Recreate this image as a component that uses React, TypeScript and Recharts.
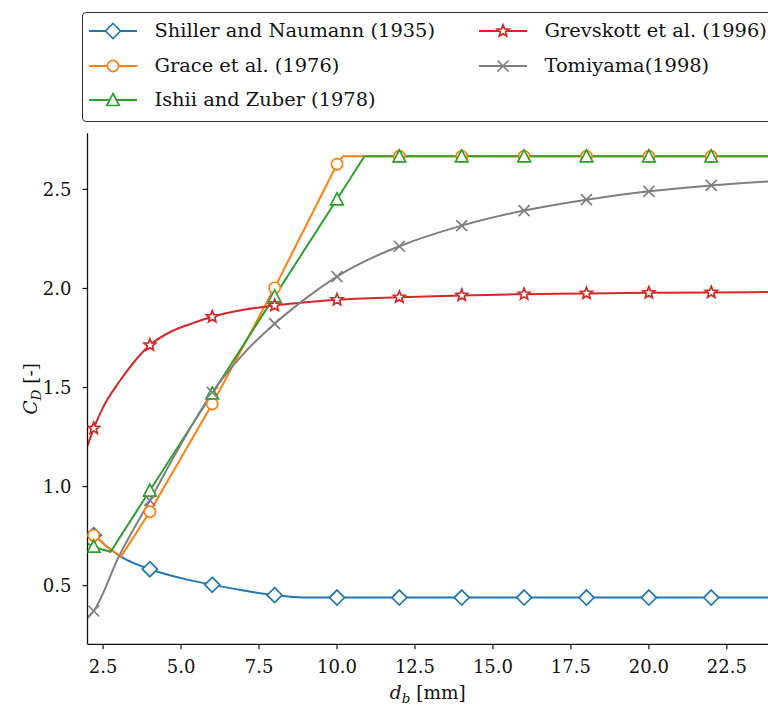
import React from "react";
import { ComposedChart, Line, XAxis, YAxis, Legend } from "recharts";

// values (d_b in mm, C_D dimensionless)
const markerXs = [2.2, 4, 6, 8, 10, 12, 14, 16, 18, 20, 22];

const shillerX = [2.0, 2.2, 2.6, 3.07, 3.5, 4, 5, 6, 7, 8, 8.9, 10, 12, 14, 16, 18, 20, 22, 23.82];
const shillerY = [0.77, 0.755, 0.7, 0.646, 0.612, 0.583, 0.538, 0.504, 0.476, 0.452, 0.44, 0.44, 0.44, 0.44, 0.44, 0.44, 0.44, 0.44, 0.44];

const graceX = [2.0, 2.2, 2.6, 3.07, 4, 6, 8, 10, 10.2, 12, 14, 16, 18, 20, 22, 23.82];
const graceY = [0.77, 0.755, 0.7, 0.646, 0.873, 1.417, 2.003, 2.627, 2.667, 2.667, 2.667, 2.667, 2.667, 2.667, 2.667, 2.667];

const ishiiX = [2.0, 2.2, 2.45, 2.74, 4, 6, 8, 10, 10.88, 12, 14, 16, 18, 20, 22, 23.82];
const ishiiY = [0.712, 0.697, 0.684, 0.671, 0.98, 1.47, 1.96, 2.45, 2.667, 2.667, 2.667, 2.667, 2.667, 2.667, 2.667, 2.667];

const grevskottX = [2.0, 2.2, 2.5, 3.0, 3.5, 4, 4.7, 5.4, 6, 7, 8, 9, 10, 12, 14, 16, 18, 20, 22, 23.82];
const grevskottY = [1.205, 1.294, 1.4, 1.525, 1.63, 1.714, 1.784, 1.826, 1.857, 1.892, 1.914, 1.93, 1.943, 1.956, 1.965, 1.971, 1.975, 1.978, 1.98, 1.982];

const tomiyamaX = [2.0, 2.2, 3, 4, 5, 6, 7, 8, 9, 10, 11, 12, 14, 16, 18, 20, 22, 23.82];
const tomiyamaY = [0.337, 0.372, 0.645, 0.93, 1.215, 1.475, 1.67, 1.822, 1.95, 2.06, 2.145, 2.213, 2.317, 2.393, 2.448, 2.49, 2.52, 2.54];

const seriesNames = [
  "Shiller and Naumann (1935)",
  "Grace et al. (1976)",
  "Ishii and Zuber (1978)",
  "Grevskott et al. (1996)",
  "Tomiyama(1998)",
];

const xTicks = [2.5, 5.0, 7.5, 10.0, 12.5, 15.0, 17.5, 20.0, 22.5];
const yTicks = [0.5, 1.0, 1.5, 2.0, 2.5];

const FONT = "DejaVu Serif";

const toPoints = (xs: number[], ys: number[]) => xs.map((x, i) => ({ x, y: ys[i] }));

type MarkerKind = "diamond" | "circle" | "triangle" | "star" | "cross";

const styles: { color: string; marker: MarkerKind; points: { x: number; y: number }[] }[] = [
  { color: "#1f77b4", marker: "diamond", points: toPoints(shillerX, shillerY) },
  { color: "#ff7f0e", marker: "circle", points: toPoints(graceX, graceY) },
  { color: "#2ca02c", marker: "triangle", points: toPoints(ishiiX, ishiiY) },
  { color: "#d62728", marker: "star", points: toPoints(grevskottX, grevskottY) },
  { color: "#7f7f7f", marker: "cross", points: toPoints(tomiyamaX, tomiyamaY) },
];

function starPoints(cx: number, cy: number, ro: number, ri: number) {
  const pts: string[] = [];
  for (let i = 0; i < 10; i++) {
    const r = i % 2 === 0 ? ro : ri;
    const a = -Math.PI / 2 + (i * Math.PI) / 5;
    pts.push(`${cx + r * Math.cos(a)},${cy + r * Math.sin(a)}`);
  }
  return pts.join(" ");
}

function Marker({ kind, color, cx, cy }: { kind: MarkerKind; color: string; cx: number; cy: number }) {
  const sw = 1.7;
  switch (kind) {
    case "diamond":
      return (
        <polygon
          points={`${cx},${cy - 7.5} ${cx + 7.5},${cy} ${cx},${cy + 7.5} ${cx - 7.5},${cy}`}
          fill="#fff"
          stroke={color}
          strokeWidth={sw}
        />
      );
    case "circle":
      return <circle cx={cx} cy={cy} r={5.6} fill="#fff" stroke={color} strokeWidth={sw} />;
    case "triangle":
      return (
        <polygon
          points={`${cx},${cy - 6.5} ${cx + 6.3},${cy + 5.5} ${cx - 6.3},${cy + 5.5}`}
          fill="#fff"
          stroke={color}
          strokeWidth={sw}
        />
      );
    case "star":
      return <polygon points={starPoints(cx, cy, 6.2, 2.7)} fill="#fff" stroke={color} strokeWidth={sw} />;
    default:
      return (
        <g stroke={color} strokeWidth={sw}>
          <line x1={cx - 5.5} y1={cy - 5.5} x2={cx + 5.5} y2={cy + 5.5} />
          <line x1={cx - 5.5} y1={cy + 5.5} x2={cx + 5.5} y2={cy - 5.5} />
        </g>
      );
  }
}

const makeDot = (kind: MarkerKind, color: string) => (p: any) => {
  const key = `${kind}-${p.index}`;
  if (!p.payload || !markerXs.includes(p.payload.x)) return <g key={key} />;
  return (
    <g key={key}>
      <Marker kind={kind} color={color} cx={p.cx} cy={p.cy} />
    </g>
  );
};

function LegendBox() {
  return (
    <div
      style={{
        position: "relative",
        width: 720,
        height: 110,
        border: "1.5px solid #333",
        borderRadius: 4,
        background: "#fff",
        boxSizing: "border-box",
        fontFamily: FONT,
      }}
    >
      {seriesNames.map((name, i) => {
        const col = i < 3 ? 0 : 1;
        const row = i < 3 ? i : i - 3;
        const s = styles[i];
        return (
          <div
            key={name}
            style={{
              position: "absolute",
              left: col === 0 ? 5.5 : 395.5,
              top: 6 + row * 34.5,
              height: 24,
              display: "flex",
              alignItems: "center",
              whiteSpace: "nowrap",
            }}
          >
            <svg width={48} height={24} style={{ display: "block" }}>
              <line x1={0} y1={12} x2={48} y2={12} stroke={s.color} strokeWidth={2} />
              <Marker kind={s.marker} color={s.color} cx={24} cy={12} />
            </svg>
            <span style={{ marginLeft: 18, fontSize: 19.4, color: "#111", lineHeight: "24px", fontFamily: FONT }}>
              {name}
            </span>
          </div>
        );
      })}
    </div>
  );
}

function XTitle(props: any) {
  const vb = props.viewBox || { x: 87.5, y: 644, width: 680.5 };
  return (
    <text x={vb.x + vb.width / 2} y={699} textAnchor="middle" fontSize={18.5} style={{ fontFamily: FONT }} fill="#111">
      <tspan fontStyle="italic">d</tspan>
      <tspan fontStyle="italic" fontSize={13.5} dy={4}>
        b
      </tspan>
      <tspan dy={-4}> [mm]</tspan>
    </text>
  );
}

function YTitle(props: any) {
  const vb = props.viewBox || { y: 133, height: 511 };
  const cy = vb.y + vb.height / 2;
  const cx = 37;
  return (
    <text
      x={cx}
      y={cy}
      textAnchor="middle"
      fontSize={18.5}
      style={{ fontFamily: FONT }}
      fill="#111"
      transform={`rotate(-90, ${cx}, ${cy})`}
    >
      <tspan fontStyle="italic">C</tspan>
      <tspan fontStyle="italic" fontSize={13.5} dy={4}>
        D
      </tspan>
      <tspan dy={-4}> [-]</tspan>
    </text>
  );
}

const tickStyle = { fontSize: 18, fontFamily: FONT, fill: "#111" };

export default function App() {
  return (
    <div style={{ position: "fixed", left: 0, top: 0, width: 768, height: 708, overflow: "hidden", background: "#fff" }}>
      <ComposedChart width={768} height={708} margin={{ top: 133.3, right: 0, bottom: 0, left: 0 }}>
        <XAxis
          xAxisId="main"
          type="number"
          dataKey="x"
          domain={[2.0, 23.82]}
          allowDataOverflow
          ticks={xTicks}
          tickFormatter={(v: number) => v.toFixed(1)}
          tick={tickStyle}
          tickSize={5}
          tickMargin={11}
          height={63.7}
          axisLine={{ stroke: "#111", strokeWidth: 1.3 }}
          tickLine={{ stroke: "#111", strokeWidth: 1.2 }}
          label={<XTitle />}
        />
        <XAxis
          xAxisId="top"
          orientation="top"
          type="number"
          dataKey="x"
          domain={[2.0, 23.82]}
          height={0}
          tick={false}
          tickLine={false}
          axisLine={{ stroke: "#111", strokeWidth: 1.3 }}
        />
        <YAxis
          type="number"
          domain={[0.204, 2.783]}
          allowDataOverflow
          ticks={yTicks}
          tickFormatter={(v: number) => v.toFixed(1)}
          tick={tickStyle}
          tickSize={5}
          tickMargin={11}
          width={87.5}
          axisLine={{ stroke: "#111", strokeWidth: 1.3 }}
          tickLine={{ stroke: "#111", strokeWidth: 1.2 }}
          label={<YTitle />}
        />
        <Legend
          layout="horizontal"
          verticalAlign="middle"
          align="center"
          content={() => <LegendBox />}
          wrapperStyle={{ position: "absolute", top: 12, left: 82, width: 720, height: 110, margin: 0 }}
        />
        {styles.map((s, i) => (
          <Line
            key={seriesNames[i]}
            xAxisId="main"
            data={s.points}
            dataKey="y"
            name={seriesNames[i]}
            type={s.marker === "circle" || s.marker === "triangle" ? "linear" : "monotone"}
            stroke={s.color}
            strokeWidth={2}
            dot={makeDot(s.marker, s.color)}
            activeDot={false}
            isAnimationActive={false}
          />
        ))}
      </ComposedChart>
    </div>
  );
}
